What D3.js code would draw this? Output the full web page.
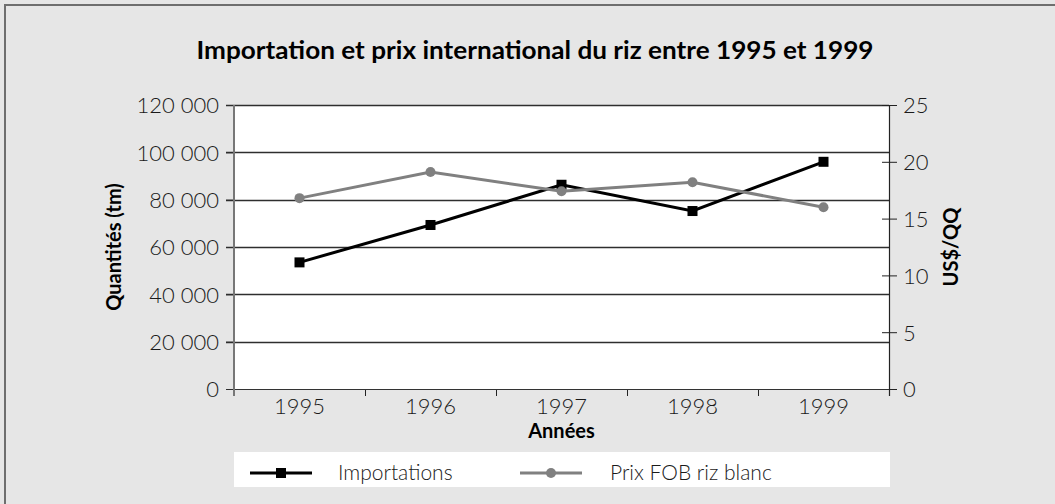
<!DOCTYPE html>
<meta charset="utf-8">

<!-- Load d3.js -->
<script src="https://d3js.org/d3.v7.min.js"></script>

<div id="chart"></div>

<style>
body { margin: 0; background: #e6e6e6; }
text { font-family: Lato, "Open Sans", sans-serif; fill: #1a1a1a; }
.tick text { font-size: 22px; font-weight: 300; }
.axis-title { font-size: 20px; font-weight: 700; fill: #000; }
</style>

<script>
// data
var years = ["1995", "1996", "1997", "1998", "1999"];
var importations = [53500, 69300, 86300, 75200, 96000];   // tm, left axis
var prixFOB = [16.8, 19.1, 17.4, 18.2, 16.0];               // US$/QQ, right axis
var leftTicks = [0, 20000, 40000, 60000, 80000, 100000, 120000];
var rightTicks = [0, 5, 10, 15, 20, 25];
var seriesNames = ["Importations", "Prix FOB riz blanc"];

var W = 1055, H = 504;
var margin = {top: 105, right: 166, bottom: 115, left: 234},
    width = W - margin.left - margin.right,
    height = H - margin.top - margin.bottom;

var root = d3.select("#chart")
  .append("svg")
    .attr("width", W)
    .attr("height", H);

// outer frame (only top and left edges visible)
root.append("rect")
  .attr("x", 5).attr("y", 5)
  .attr("width", W + 20).attr("height", H + 20)
  .attr("fill", "#e6e6e6")
  .attr("stroke", "#6e6e6e")
  .attr("stroke-width", 2);

// title
root.append("text")
  .attr("x", 535).attr("y", 59)
  .attr("text-anchor", "middle")
  .attr("textLength", 677)
  .attr("lengthAdjust", "spacingAndGlyphs")
  .style("font-size", "25px")
  .style("font-weight", 700)
  .style("fill", "#000")
  .text("Importation et prix international du riz entre 1995 et 1999");

var svg = root.append("g")
  .attr("transform", "translate(" + margin.left + "," + margin.top + ")");

// scales
var x = d3.scaleBand().domain(years).range([0, width]);
var yL = d3.scaleLinear().domain([0, 120000]).range([height, 0]);
var yR = d3.scaleLinear().domain([0, 25]).range([height, 0]);

var fr = d3.formatLocale({decimal: ",", thousands: " ", grouping: [3], currency: ["", ""]});
var fmt = fr.format(",");

// plot background
svg.append("rect")
  .attr("width", width).attr("height", height)
  .attr("fill", "#fff");

// gridlines
svg.append("g")
  .selectAll("line")
  .data(leftTicks.slice(1))
  .enter()
  .append("line")
    .attr("x1", -8).attr("x2", width)
    .attr("y1", function(d) { return Math.round(yL(d)) + 0.5; })
    .attr("y2", function(d) { return Math.round(yL(d)) + 0.5; })
    .attr("stroke", "#2e2e2e")
    .attr("stroke-width", 1.3);

// left axis
var gL = svg.append("g")
  .call(d3.axisLeft(yL).tickValues(leftTicks).tickSize(8).tickPadding(7).tickFormat(fmt));
gL.select(".domain").remove();
gL.selectAll(".tick line").attr("stroke", "#2e2e2e");
gL.selectAll(".tick text").attr("dy", "0.36em");

// right axis
var gR = svg.append("g")
  .attr("transform", "translate(" + width + ",0)")
  .call(d3.axisRight(yR).tickValues(rightTicks).tickSize(8).tickPadding(6));
gR.select(".domain").remove();
gR.selectAll(".tick line").attr("x1", -7).attr("stroke", "#222");
gR.selectAll(".tick text").attr("dy", "0.36em");

// bottom axis: ticks on band boundaries
var gX = svg.append("g")
  .attr("transform", "translate(0," + height + ")")
  .call(d3.axisBottom(x).tickSize(0).tickPadding(8));
gX.select(".domain").remove();
gX.selectAll(".tick text").attr("dy", "0.75em");
gX.selectAll("line.bound")
  .data(d3.range(years.length + 1))
  .enter()
  .append("line")
    .attr("class", "bound")
    .attr("x1", function(i) { return Math.round(i * x.step()) + 0.5; })
    .attr("x2", function(i) { return Math.round(i * x.step()) + 0.5; })
    .attr("y1", 0).attr("y2", 7)
    .attr("stroke", "#222");

// axis lines
svg.append("line")
  .attr("x1", 0).attr("x2", width)
  .attr("y1", height + 0.5).attr("y2", height + 0.5)
  .attr("stroke", "#333").attr("stroke-width", 1.2);
svg.append("line")
  .attr("x1", 0).attr("x2", 0)
  .attr("y1", 0).attr("y2", height + 7)
  .attr("stroke", "#777").attr("stroke-width", 2);
svg.append("line")
  .attr("x1", width + 0.5).attr("x2", width + 0.5)
  .attr("y1", 0).attr("y2", height + 7)
  .attr("stroke", "#222").attr("stroke-width", 1.2);

// axis titles
svg.append("text")
  .attr("class", "axis-title")
  .attr("transform", "translate(" + (114 - margin.left + 7) + "," + (height / 2) + ") rotate(-90)")
  .attr("text-anchor", "middle")
  .text("Quantités (tm)");
svg.append("text")
  .attr("class", "axis-title")
  .attr("transform", "translate(" + (951 - margin.left + 7) + "," + (height / 2) + ") rotate(-90)")
  .attr("text-anchor", "middle")
  .text("US$/QQ");
svg.append("text")
  .attr("class", "axis-title")
  .attr("x", width / 2).attr("y", height + 49)
  .attr("text-anchor", "middle")
  .text("Années");

var cx = function(i) { return x(years[i]) + x.bandwidth() / 2; };

// importations (black, squares)
svg.append("path")
  .datum(importations)
  .attr("fill", "none")
  .attr("stroke", "#000")
  .attr("stroke-width", 3)
  .attr("d", d3.line().x(function(d, i) { return cx(i); }).y(function(d) { return yL(d); }));
svg.append("g")
  .selectAll("rect")
  .data(importations)
  .enter()
  .append("rect")
    .attr("x", function(d, i) { return cx(i) - 5; })
    .attr("y", function(d) { return yL(d) - 5; })
    .attr("width", 10).attr("height", 10)
    .attr("fill", "#000");

// prix FOB (gray, circles)
svg.append("path")
  .datum(prixFOB)
  .attr("fill", "none")
  .attr("stroke", "#808080")
  .attr("stroke-width", 3)
  .attr("d", d3.line().x(function(d, i) { return cx(i); }).y(function(d) { return yR(d); }));
svg.append("g")
  .selectAll("circle")
  .data(prixFOB)
  .enter()
  .append("circle")
    .attr("cx", function(d, i) { return cx(i); })
    .attr("cy", function(d) { return yR(d); })
    .attr("r", 5)
    .attr("fill", "#808080");

// legend
var leg = root.append("g").attr("transform", "translate(234,452)");
leg.append("rect")
  .attr("width", 656).attr("height", 35)
  .attr("fill", "#fff");
var items = [
  {name: seriesNames[0], color: "#000", shape: "square", x0: 16, tx: 104},
  {name: seriesNames[1], color: "#808080", shape: "circle", x0: 286, tx: 376}
];
items.forEach(function(it) {
  leg.append("line")
    .attr("x1", it.x0).attr("x2", it.x0 + 62)
    .attr("y1", 21).attr("y2", 21)
    .attr("stroke", it.color).attr("stroke-width", 3);
  if (it.shape === "square") {
    leg.append("rect")
      .attr("x", it.x0 + 26).attr("y", 16)
      .attr("width", 10).attr("height", 10)
      .attr("fill", it.color);
  } else {
    leg.append("circle")
      .attr("cx", it.x0 + 31).attr("cy", 21).attr("r", 5)
      .attr("fill", it.color);
  }
  leg.append("text")
    .attr("x", it.tx).attr("y", 28)
    .style("font-size", "21px")
    .style("font-weight", 300)
    .text(it.name);
});
</script>
